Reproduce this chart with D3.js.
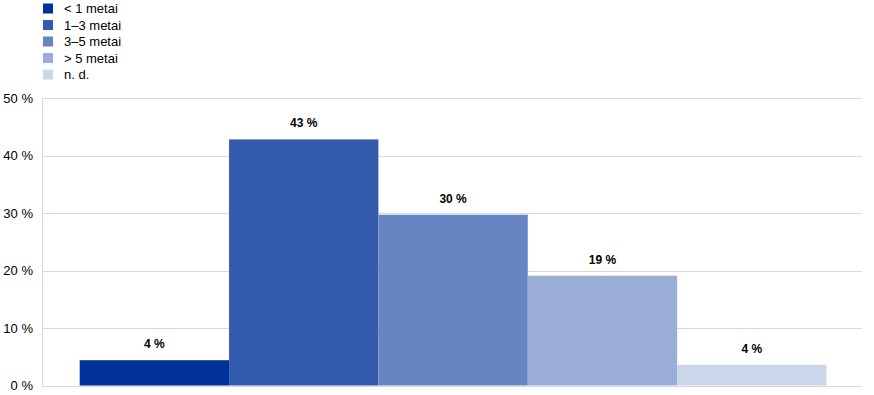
<!DOCTYPE html>
<html><head><meta charset="utf-8">
<script src="https://cdn.jsdelivr.net/npm/d3@7"></script>
<style>body{margin:0;background:#fff;font-family:"Liberation Sans",Arial,sans-serif;}</style>
</head><body>
<svg id="c" width="874" height="395"></svg>
<script>
const categories = ["< 1 metai", "1–3 metai", "3–5 metai", "> 5 metai", "n. d."];
const values = [4.4, 42.8, 29.7, 19.1, 3.6];
const labels = ["4 %", "43 %", "30 %", "19 %", "4 %"];
const colors = ["#003299", "#335bad", "#6685c2", "#99add6", "#ccd6ea"];
const yTicks = [0, 10, 20, 30, 40, 50];

(function () {
const svg = d3.select("#c");
const mLeft = 42, mRight = 862, mTop = 98, mBottom = 385.5;

const y = d3.scaleLinear().domain([0, 50]).range([mBottom, mTop]);
const outer = d3.scaleBand().domain(["all"]).range([mLeft, mRight]).paddingInner(0).paddingOuter(0.049).align(0.515);
const x = d3.scaleBand().domain(categories).range([outer("all"), outer("all") + outer.bandwidth()]).padding(0);

// grid
svg.append("g").selectAll("line").data(yTicks).join("line")
  .attr("x1", mLeft).attr("x2", mRight)
  .attr("y1", d => Math.round(y(d)) + 0.5).attr("y2", d => Math.round(y(d)) + 0.5)
  .attr("stroke", "#d9d9d9").attr("stroke-width", 1);
svg.append("line").attr("x1", mLeft + 0.5).attr("x2", mLeft + 0.5)
  .attr("y1", y(50)).attr("y2", y(0)).attr("stroke", "#d9d9d9");

// y axis labels
const yAxis = d3.axisLeft(y).tickValues(yTicks).tickFormat(d => d + " %").tickSize(0).tickPadding(9);
const ga = svg.append("g").attr("transform", `translate(${mLeft},0)`).call(yAxis);
ga.select(".domain").remove();
ga.selectAll("text").attr("font-size", 13).attr("font-family", "Liberation Sans, Arial, sans-serif").attr("fill", "#000");

// bars
svg.append("g").selectAll("rect").data(values).join("rect")
  .attr("x", (d, i) => x(categories[i]))
  .attr("width", x.bandwidth())
  .attr("y", d => y(d))
  .attr("height", d => y(0) - y(d))
  .attr("fill", (d, i) => colors[i]);

// value labels
svg.append("g").selectAll("text").data(values).join("text")
  .attr("x", (d, i) => x(categories[i]) + x.bandwidth() / 2)
  .attr("y", d => y(d) - 12)
  .attr("text-anchor", "middle")
  .attr("font-size", 12).attr("font-weight", "bold")
  .attr("fill", "#000")
  .text((d, i) => labels[i]);

// legend
const lg = svg.append("g");
categories.forEach((c, i) => {
  const cy = 8.5 + i * 16.5;
  lg.append("rect").attr("x", 43).attr("y", cy - 5).attr("width", 10).attr("height", 10).attr("fill", colors[i]);
  lg.append("text").attr("x", 64).attr("y", cy + 4.5).attr("font-size", 13).attr("fill", "#000").text(c);
});
})();
</script>
</body></html>
